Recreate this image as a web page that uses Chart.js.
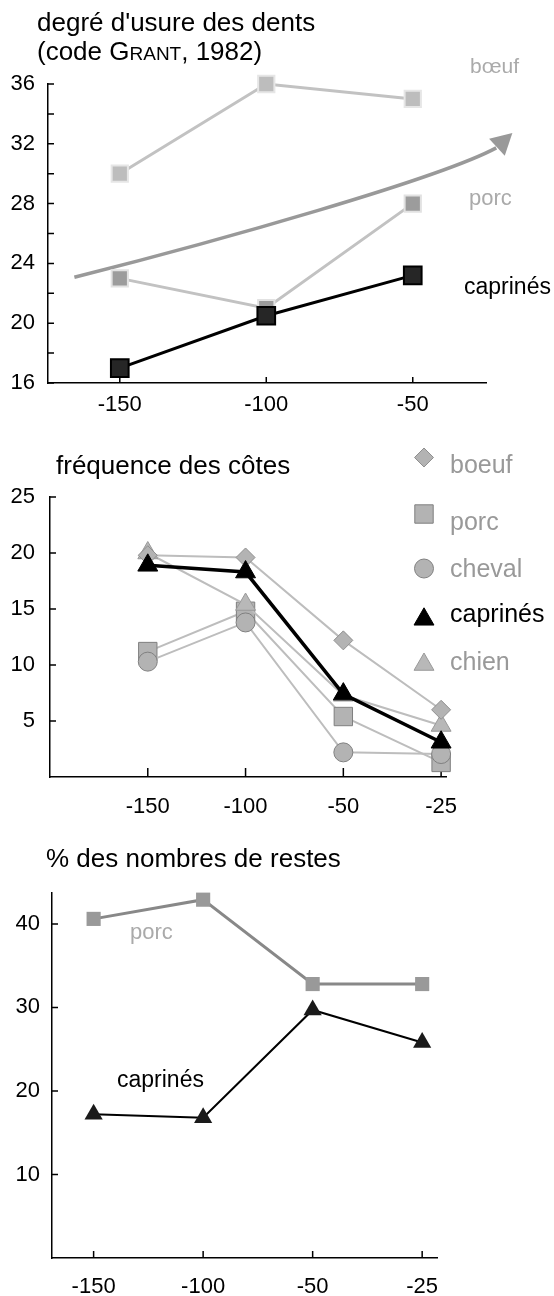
<!DOCTYPE html>
<html>
<head>
<meta charset="utf-8">
<script src="https://cdn.jsdelivr.net/npm/chart.js@4.4.1/dist/chart.umd.min.js"></script>
<style>
  html, body { margin: 0; padding: 0; background: #fff; }
  canvas { display: block; }
</style>
</head>
<body>
<canvas id="usure" width="554" height="420"></canvas>
<canvas id="cotes" width="554" height="420"></canvas>
<canvas id="restes" width="554" height="456"></canvas>
<script>
// degré d'usure des dents (top)
const usureLabels = ['-150', '-100', '-50'];
const usureBoeuf = [30, 36, 35];
const usurePorc = [23, 21, 28];
const usureCaprines = [17, 20.5, 23.2];
// trend arrow, in data units: start, control 1, control 2, end, tip
const usureArrow = [[-0.31, 23.07], [0.68, 25.53], [2.18, 29.67], [2.57, 31.73]];
const usureArrowTip = [2.68, 32.73];

// fréquence des côtes (middle)
const cotesLabels = ['-150', '-100', '-50', '-25'];
const cotesBoeuf = [19.8, 19.6, 12.2, 6.0];
const cotesPorc = [11.2, 14.8, 5.4, 1.3];
const cotesCheval = [10.3, 13.8, 2.2, 2.05];
const cotesCaprines = [18.9, 18.3, 7.4, 3.1];
const cotesChien = [20.0, 15.4, 7.3, 4.6];

// % des nombres de restes (bottom)
const restesLabels = ['-150', '-100', '-50', '-25'];
const restesPorc = [40.6, 42.9, 32.8, 32.8];
const restesCaprines = [17.2, 16.8, 29.7, 25.8];

const FONT = "'Liberation Sans', Arial, Helvetica, sans-serif";

function series(label, values, s) {
  return {
    label: label,
    data: values.map((v, i) => ({x: i, y: v})),
    borderColor: s.line,
    borderWidth: s.lw,
    pointStyle: s.shape,
    pointRadius: s.r,
    pointHoverRadius: s.r,
    pointBackgroundColor: s.fill,
    pointBorderColor: s.edge || s.fill,
    pointBorderWidth: s.ew || 0,
    order: s.order,
    tension: 0,
    fill: false,
    clip: false
  };
}

// titles, notes, inside tick marks, arrow and the side legend
const decor = {
  id: 'decor',
  beforeDatasetsDraw(chart, args, o) {
    const ctx = chart.ctx, xs = chart.scales.x, ys = chart.scales.y;
    ctx.save();
    ctx.strokeStyle = '#000';
    ctx.lineWidth = 1.5;
    ctx.beginPath();
    ys.ticks.forEach(t => {
      const py = ys.getPixelForValue(t.value);
      ctx.moveTo(xs.left, py);
      ctx.lineTo(xs.left + o.yTick, py);
    });
    xs.ticks.forEach(t => {
      const px = xs.getPixelForValue(t.value);
      ctx.moveTo(px, ys.bottom);
      ctx.lineTo(px, ys.bottom - o.xTick);
    });
    ctx.stroke();

    if (o.arrow) {
      const p = o.arrow.map(a => [xs.getPixelForValue(a[0]), ys.getPixelForValue(a[1])]);
      const tip = [xs.getPixelForValue(o.arrowTip[0]), ys.getPixelForValue(o.arrowTip[1])];
      ctx.strokeStyle = '#999';
      ctx.fillStyle = '#999';
      ctx.lineWidth = 3.5;
      ctx.beginPath();
      ctx.moveTo(p[0][0], p[0][1]);
      ctx.bezierCurveTo(p[1][0], p[1][1], p[2][0], p[2][1], p[3][0], p[3][1]);
      ctx.stroke();
      const ang = Math.atan2(tip[1] - p[3][1], tip[0] - p[3][0]);
      const len = 24, spread = 0.5;
      ctx.beginPath();
      ctx.moveTo(tip[0], tip[1]);
      ctx.lineTo(tip[0] - len * Math.cos(ang - spread), tip[1] - len * Math.sin(ang - spread));
      ctx.lineTo(tip[0] - len * Math.cos(ang + spread), tip[1] - len * Math.sin(ang + spread));
      ctx.closePath();
      ctx.fill();
    }
    ctx.restore();
  },
  afterDatasetsDraw(chart, args, o) {
    const ctx = chart.ctx;
    ctx.save();
    ctx.textAlign = 'left';
    ctx.textBaseline = 'alphabetic';
    (o.titles || []).forEach(t => {
      let x = t.x;
      ctx.fillStyle = '#000';
      t.runs.forEach(r => {
        ctx.font = r[1] + 'px ' + FONT;
        ctx.fillText(r[0], x, t.y);
        x += ctx.measureText(r[0]).width;
      });
    });
    (o.notes || []).forEach(n => {
      ctx.font = n.size + 'px ' + FONT;
      ctx.fillStyle = n.color;
      ctx.fillText(n.text, n.x, n.y);
    });
    (o.legend || []).forEach(item => {
      const ds = chart.data.datasets[item.i];
      ctx.fillStyle = ds.pointBackgroundColor;
      ctx.strokeStyle = ds.pointBorderColor;
      ctx.lineWidth = ds.pointBorderWidth;
      Chart.helpers.drawPoint(ctx, {
        pointStyle: ds.pointStyle, rotation: 0,
        radius: ds.pointRadius, borderWidth: ds.pointBorderWidth
      }, o.legendX, item.y);
      ctx.font = o.legendSize + 'px ' + FONT;
      ctx.fillStyle = item.color;
      ctx.fillText(ds.label, o.legendTextX, item.ty);
    });
    ctx.restore();
  }
};
Chart.register(decor);

function options(o) {
  return {
    responsive: false,
    animation: false,
    devicePixelRatio: 1,
    events: [],
    layout: {padding: {top: o.top, right: o.right, bottom: 0, left: 0}},
    plugins: {legend: {display: false}, tooltip: {enabled: false}, decor: o.decor},
    scales: {
      x: {
        type: 'linear', min: o.xMin, max: o.xMax,
        afterFit: s => { s.height = o.xHeight; },
        afterBuildTicks: s => { s.ticks = o.labels.map((l, i) => ({value: i})); },
        grid: {display: false, drawTicks: false},
        border: {display: true, color: '#000', width: 1.5},
        ticks: {
          color: '#000', font: {family: FONT, size: 22}, padding: o.xPad,
          maxRotation: 0, autoSkip: false, callback: v => o.labels[v]
        }
      },
      y: {
        type: 'linear', min: o.yMin, max: o.yMax,
        afterFit: s => { s.width = o.yWidth; },
        afterBuildTicks: s => { s.ticks = o.yTicks.map(v => ({value: v})); },
        grid: {display: false, drawTicks: false},
        border: {display: true, color: '#000', width: 1.5},
        ticks: {
          color: '#000', font: {family: FONT, size: 22}, padding: o.yPad,
          autoSkip: false, callback: o.yLabel || (v => v)
        }
      }
    }
  };
}

new Chart(document.getElementById('usure'), {
  type: 'line',
  data: {
    datasets: [
      series('caprinés', usureCaprines, {shape: 'rect', r: 12.5, fill: '#262626', edge: '#000', ew: 2, line: '#000', lw: 3, order: 0}),
      series('porc', usurePorc, {shape: 'rect', r: 11.5, fill: '#9c9c9c', edge: '#e2e2e2', ew: 2, line: '#c2c2c2', lw: 3, order: 1}),
      series('bœuf', usureBoeuf, {shape: 'rect', r: 11.5, fill: '#bdbdbd', edge: '#e6e6e6', ew: 2, line: '#c2c2c2', lw: 3, order: 2})
    ]
  },
  options: options({
    top: 84, right: 68, yWidth: 48, xHeight: 37,
    xMin: -0.49, xMax: 2.5, yMin: 16, yMax: 36,
    labels: usureLabels,
    yTicks: [16, 18, 20, 22, 24, 26, 28, 30, 32, 34, 36],
    yLabel: v => (v % 4 === 0 ? String(v) : ''),
    xPad: 9, yPad: 13,
    decor: {
      yTick: 6, xTick: 6,
      arrow: usureArrow, arrowTip: usureArrowTip,
      titles: [
        {x: 37, y: 31, runs: [["degré d'usure des dents", 26]]},
        {x: 37, y: 60, runs: [['(code G', 26], ['RANT', 19], [', 1982)', 26]]}
      ],
      notes: [
        {text: 'bœuf', x: 470, y: 73, color: '#aaa', size: 21},
        {text: 'porc', x: 469, y: 205, color: '#aaa', size: 22},
        {text: 'caprinés', x: 464, y: 294, color: '#000', size: 23}
      ]
    }
  })
});

new Chart(document.getElementById('cotes'), {
  type: 'line',
  data: {
    datasets: [
      series('boeuf', cotesBoeuf, {shape: 'rectRot', r: 9.5, fill: '#b3b3b3', edge: '#8f8f8f', ew: 1, line: '#bdbdbd', lw: 2, order: 1}),
      series('porc', cotesPorc, {shape: 'rect', r: 13, fill: '#b3b3b3', edge: '#7f7f7f', ew: 1, line: '#bdbdbd', lw: 2, order: 4}),
      series('cheval', cotesCheval, {shape: 'circle', r: 9.5, fill: '#b3b3b3', edge: '#808080', ew: 1, line: '#bdbdbd', lw: 2, order: 3}),
      series('caprinés', cotesCaprines, {shape: 'triangle', r: 11.5, fill: '#000', edge: '#000', ew: 1, line: '#000', lw: 3.5, order: 0}),
      series('chien', cotesChien, {shape: 'triangle', r: 11.5, fill: '#b8b8b8', edge: '#999', ew: 1, line: '#bdbdbd', lw: 2, order: 2})
    ]
  },
  options: options({
    top: 77, right: 108, yWidth: 50, xHeight: 63,
    xMin: -1.0, xMax: 3.05, yMin: 0, yMax: 25,
    labels: cotesLabels,
    yTicks: [5, 10, 15, 20, 25],
    xPad: 17, yPad: 15,
    decor: {
      yTick: 6, xTick: 9,
      titles: [{x: 56, y: 54, runs: [['fréquence des côtes', 26]]}],
      legendX: 424, legendTextX: 450, legendSize: 25,
      legend: [
        {i: 0, y: 37.5, ty: 53, color: '#999'},
        {i: 1, y: 94, ty: 110, color: '#999'},
        {i: 2, y: 148.5, ty: 157, color: '#999'},
        {i: 3, y: 199.3, ty: 202, color: '#000'},
        {i: 4, y: 244.5, ty: 250, color: '#999'}
      ]
    }
  })
});

new Chart(document.getElementById('restes'), {
  type: 'line',
  data: {
    datasets: [
      series('porc', restesPorc, {shape: 'rect', r: 10, fill: '#999', line: '#888', lw: 3, order: 1}),
      series('caprinés', restesCaprines, {shape: 'triangle', r: 10.5, fill: '#1a1a1a', line: '#000', lw: 2, order: 0})
    ]
  },
  options: options({
    top: 53, right: 116.5, yWidth: 52, xHeight: 38,
    xMin: -0.38, xMax: 3.14, yMin: 0, yMax: 43.7,
    labels: restesLabels,
    yTicks: [10, 20, 30, 40],
    xPad: 16, yPad: 12,
    decor: {
      yTick: 6, xTick: 7,
      titles: [{x: 46, y: 27, runs: [['% des nombres de restes', 26]]}],
      notes: [
        {text: 'porc', x: 130, y: 99, color: '#aaa', size: 22},
        {text: 'caprinés', x: 117, y: 247, color: '#000', size: 23}
      ]
    }
  })
});
</script>
</body>
</html>
